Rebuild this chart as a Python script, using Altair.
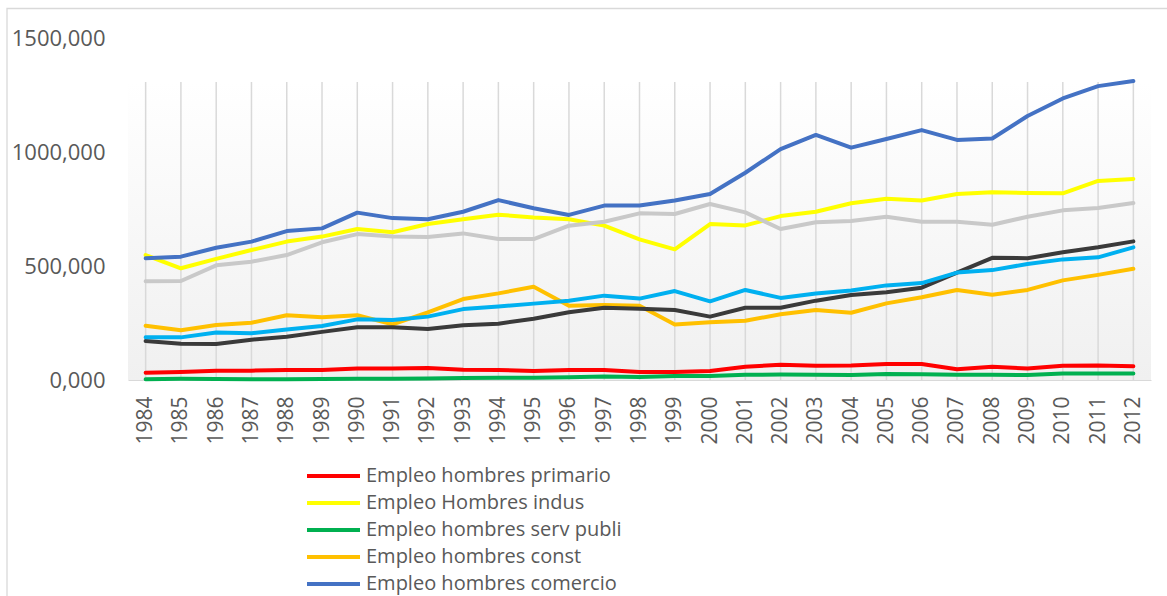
import altair as alt
import pandas as pd

years = list(range(1984, 2013))

series_names = [
    "Empleo hombres primario",
    "Empleo Hombres indus",
    "Empleo hombres serv publi",
    "Empleo hombres const",
    "Empleo hombres comercio",
    "Empleo hombres transporte",
    "Empleo hombres financiero",
    "Empleo hombres otros serv",
]
colors = ["#ff0000", "#ffff00", "#00b050", "#ffc000", "#4472c4",
          "#c9c9c9", "#3a3a3a", "#00b0f0"]

# values in thousands
primario = [32, 35, 41, 41, 44, 44, 50, 50, 53, 45, 44, 39, 44, 44, 35,
            35, 39, 58, 67, 63, 64, 70, 70, 47, 58, 50, 63, 64, 60]
indus = [548, 490, 531, 570, 607, 629, 662, 648, 684, 705, 725, 713, 705, 677, 617,
         573, 684, 678, 719, 738, 775, 795, 787, 816, 823, 820, 819, 873, 882]
serv_publi = [3, 5, 4, 3, 3, 4, 5, 6, 7, 9, 10, 10, 12, 15, 13,
              18, 18, 23, 24, 23, 22, 26, 25, 23, 23, 22, 29, 29, 29]
const = [238, 218, 241, 251, 284, 275, 284, 244, 297, 355, 380, 409, 326, 329, 326,
         243, 253, 260, 288, 307, 295, 336, 363, 395, 374, 395, 437, 461, 488]
comercio = [534, 541, 580, 607, 653, 665, 734, 710, 705, 738, 789, 753, 724, 765, 765,
            787, 816, 909, 1013, 1075, 1019, 1057, 1096, 1053, 1059, 1158, 1235, 1289, 1311]
transporte = [433, 434, 503, 519, 548, 604, 640, 629, 627, 643, 618, 618, 677, 694, 731,
              728, 772, 735, 662, 692, 697, 716, 694, 694, 681, 716, 744, 754, 776]
financiero = [171, 159, 158, 177, 190, 211, 231, 231, 224, 240, 247, 269, 297, 317, 313,
              307, 278, 317, 317, 348, 373, 385, 405, 471, 536, 534, 560, 582, 608]
otros = [187, 187, 208, 205, 221, 237, 266, 263, 278, 311, 322, 335, 348, 370, 357,
         390, 345, 395, 360, 379, 393, 415, 425, 471, 482, 509, 529, 538, 582]

all_values = [primario, indus, serv_publi, const, comercio, transporte, financiero, otros]

rows = []
for i, (name, vals) in enumerate(zip(series_names, all_values)):
    for yr, v in zip(years, vals):
        rows.append({"year": str(yr), "serie": name, "valor": v, "orden": i})
df = pd.DataFrame(rows)
years_df = pd.DataFrame({"year": [str(y) for y in years]})

W, H = 1023, 342
LABEL = "#595959"
FONT = "Open Sans"

x_enc = alt.X(
    "year:O",
    scale=alt.Scale(type="point", padding=0.5),
    axis=alt.Axis(
        title=None, labelAngle=270, labelFontSize=21, labelFont=FONT,
        labelColor=LABEL, ticks=False, grid=False, domainColor="#d9d9d9",
        domainWidth=1.2, labelPadding=16,
    ),
)

background = alt.Chart(pd.DataFrame({"k": [0]})).mark_rect(
    fill=alt.LinearGradient(
        gradient="linear",
        stops=[alt.GradientStop(offset=0, color="#ffffff"),
               alt.GradientStop(offset=1, color="#f0f0f0")],
        x1=0, x2=0, y1=0, y2=1,
    )
).encode(x=alt.value(0), x2=alt.value(W), y=alt.value(44), y2=alt.value(H))

border = alt.Chart(pd.DataFrame({"k": [0]})).mark_rect(
    filled=False, stroke="#d9d9d9", strokeWidth=1.3
).encode(x=alt.value(-121), x2=alt.value(W + 60), y=alt.value(-29.5), y2=alt.value(H + 300))

grid = alt.Chart(years_df).mark_rule(color="#d9d9d9", strokeWidth=1.5).encode(
    x=x_enc, y=alt.value(44), y2=alt.value(H)
)

lines = alt.Chart(df).mark_line(strokeWidth=4, strokeCap="round", strokeJoin="round").encode(
    x=x_enc,
    y=alt.Y(
        "valor:Q",
        scale=alt.Scale(domain=[0, 1500], nice=False),
        axis=alt.Axis(
            title=None, values=[0, 500, 1000, 1500],
            labelExpr="replace(format(datum.value, '.3f'), '.', ',')",
            domain=False, ticks=False, grid=False, labelFontSize=22,
            labelFont=FONT, labelColor=LABEL, labelPadding=23,
        ),
    ),
    color=alt.Color(
        "serie:N",
        scale=alt.Scale(domain=series_names, range=colors),
        legend=alt.Legend(
            orient="none", legendX=193.5, legendY=426, title=None,
            symbolType="M-2.65,0H2.65", symbolSize=400, symbolStrokeWidth=4,
            labelFontSize=20, labelFont=FONT, labelColor=LABEL,
            labelOffset=20.5, rowPadding=5, padding=0, labelLimit=500,
        ),
    ),
    order=alt.Order("orden:Q"),
)

chart = alt.layer(border, background, grid, lines).properties(
    width=W, height=H,
    autosize=alt.AutoSizeParams(type="none"),
    padding={"left": 128, "top": 38, "right": 16, "bottom": 216},
    background="#ffffff",
).configure_view(strokeWidth=0)

chart.save("out.html", embed_options={"renderer": "svg", "actions": False})
